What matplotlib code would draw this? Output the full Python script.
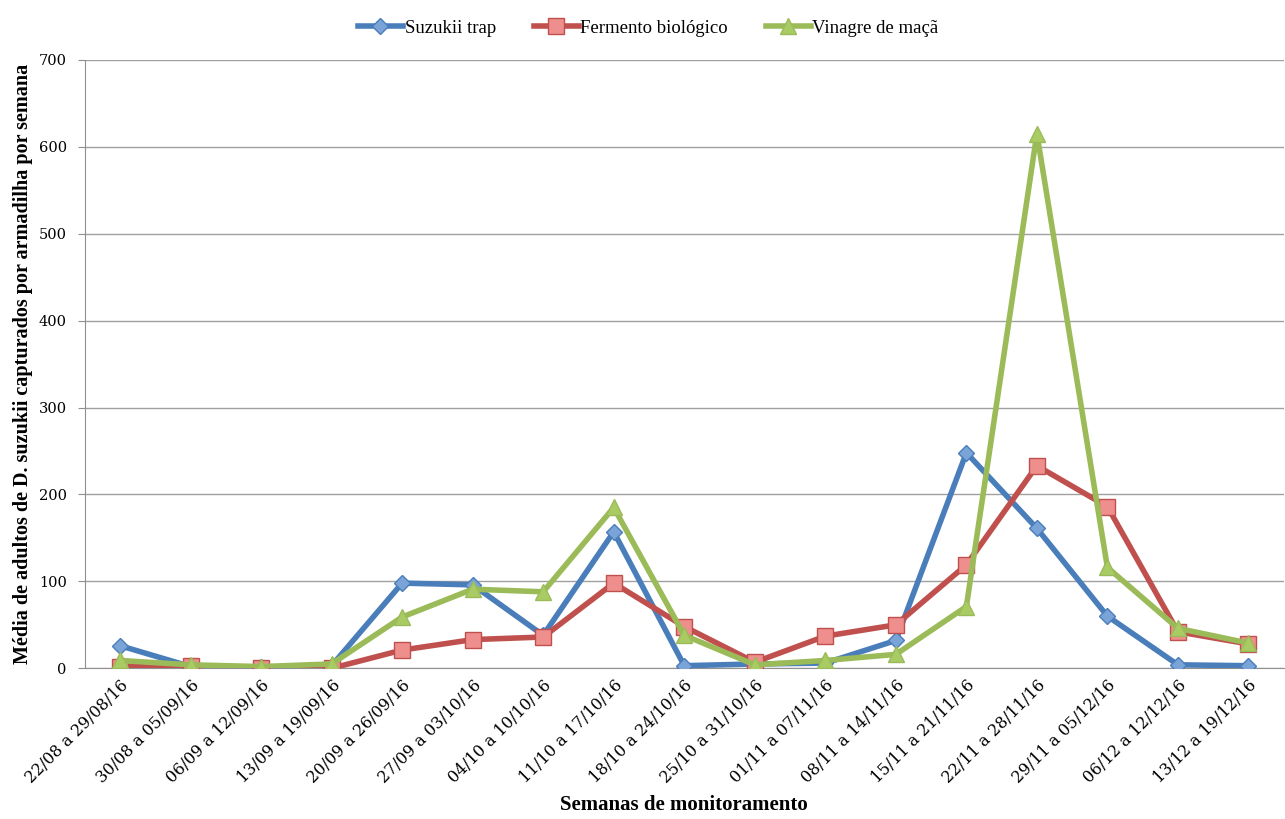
import numpy as np
import matplotlib.pyplot as plt

semanas = ["22/08 a 29/08/16", "30/08 a 05/09/16", "06/09 a 12/09/16", "13/09 a 19/09/16",
           "20/09 a 26/09/16", "27/09 a 03/10/16", "04/10 a 10/10/16", "11/10 a 17/10/16",
           "18/10 a 24/10/16", "25/10 a 31/10/16", "01/11 a 07/11/16", "08/11 a 14/11/16",
           "15/11 a 21/11/16", "22/11 a 28/11/16", "29/11 a 05/12/16", "06/12 a 12/12/16",
           "13/12 a 19/12/16"]

suzukii_trap = [26, 2, 1, 3, 98, 96, 38, 157, 3, 5, 6, 32, 248, 161, 60, 4, 3]
fermento = [2, 3, 0, 0, 21, 33, 36, 98, 48, 7, 37, 50, 119, 233, 186, 42, 28]
vinagre = [9, 4, 2, 5, 59, 91, 88, 185, 38, 4, 9, 16, 71, 615, 116, 46, 29]

plt.rcParams['font.family'] = ['DejaVu Serif']
serif2 = ['Liberation Serif', 'DejaVu Serif']

fig = plt.figure(figsize=(12.85, 8.19), dpi=100)
ax = fig.add_axes([0.066, 0.184, 0.933, 0.743])

x = np.arange(len(semanas))
ax.plot(x, suzukii_trap, color='#4a7ebb', lw=4, marker='D', ms=8,
        mfc='#7aa3d8', mec='#4a7ebb', label='Suzukii trap', zorder=3)
ax.plot(x, fermento, color='#c0504d', lw=4, marker='s', ms=11,
        mfc='#ee8f8d', mec='#c0504d', label='Fermento biológico', zorder=3)
ax.plot(x, vinagre, color='#9bbb59', lw=4, marker='^', ms=11,
        mfc='#a9cb64', mec='#9bbb59', label='Vinagre de maçã', zorder=4)

ax.set_xlim(-0.5, len(semanas) - 0.5)
ax.set_ylim(0, 700)
ax.set_yticks(range(0, 701, 100))
ax.yaxis.grid(True, color='#a0a0a0', lw=1)
ax.set_axisbelow(True)
for s in ['top', 'right']:
    ax.spines[s].set_visible(False)
ax.spines['left'].set_color('#909090')
ax.spines['bottom'].set_color('#909090')
ax.tick_params(axis='y', colors='#909090', length=5, labelcolor='black', labelsize=10.5, pad=8)
ax.tick_params(axis='x', length=0, labelsize=11.5, pad=6)

ax.set_xticks(x)
ax.set_xticklabels(semanas, rotation=45, ha='right', rotation_mode='anchor')

ax.set_ylabel('Média de adultos de D. suzukii capturados por armadilha por semana',
              fontsize=14.5, fontweight='bold', family=serif2, labelpad=4)
ax.set_xlabel('Semanas de monitoramento', fontsize=15, fontweight='bold',
              family=serif2, labelpad=6)

ax.legend(loc='lower center', bbox_to_anchor=(0.47, 1.01), ncol=3, frameon=False,
          prop={'family': serif2, 'size': 13.5}, handlelength=2.4, columnspacing=2.0,
          handletextpad=0.1)

fig.savefig('out.png', dpi=100)
